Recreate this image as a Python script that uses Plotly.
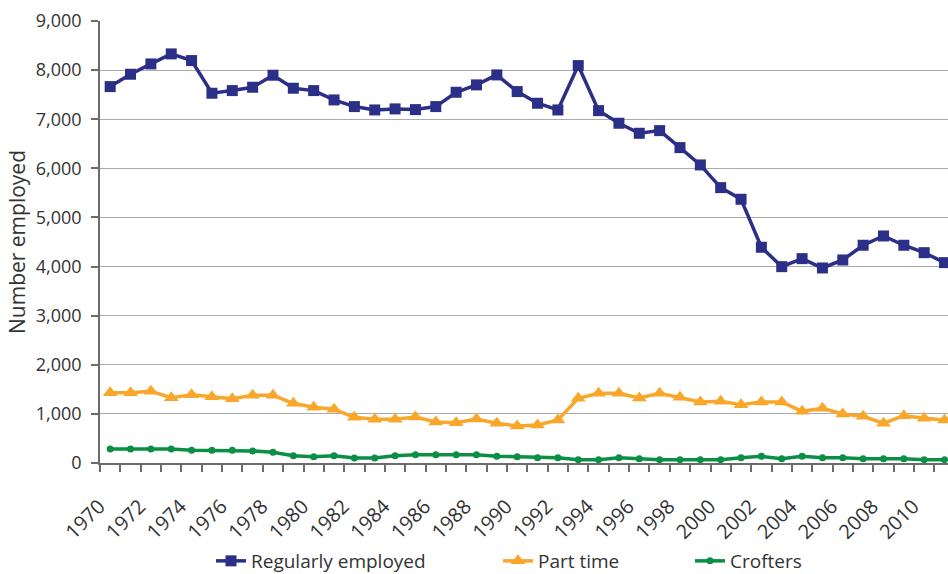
import plotly.graph_objects as go

years = list(range(1970, 2012))
regularly_employed = [7664, 7916, 8126, 8330, 8194, 7529, 7583, 7651, 7896, 7631,
                      7583, 7393, 7257, 7189, 7210, 7196, 7257, 7549, 7699, 7902,
                      7563, 7325, 7189, 8092, 7175, 6918, 6714, 6768, 6422, 6069,
                      5607, 5370, 4393, 3998, 4161, 3971, 4134, 4434, 4623, 4434,
                      4283, 4080]
part_time = [1432, 1432, 1460, 1330, 1391, 1350, 1310, 1378, 1378, 1215,
             1134, 1093, 930, 889, 889, 937, 835, 821, 896, 808,
             754, 774, 876, 1317, 1419, 1419, 1324, 1419, 1337, 1242,
             1256, 1188, 1242, 1242, 1052, 1113, 998, 950, 808, 964,
             910, 876]
crofters = [285, 285, 285, 285, 258, 258, 258, 244, 217, 149,
            129, 149, 102, 102, 149, 170, 170, 170, 170, 136,
            129, 109, 109, 68, 68, 109, 88, 68, 68, 68,
            68, 109, 136, 88, 136, 109, 109, 88, 88, 88,
            68, 68]
label_years = list(range(1970, 2011, 2))
y_ticks = list(range(0, 9001, 1000))

FONT = "Open Sans"
TXT = "#333333"
W, H = 948, 574

fig = go.Figure()
fig.add_trace(go.Scatter(x=years, y=regularly_employed, name="Regularly employed",
                         mode="lines+markers", legend="legend",
                         line=dict(color="#2B2F87", width=3.5),
                         marker=dict(symbol="square", size=11, color="#2B2F87")))
fig.add_trace(go.Scatter(x=years, y=part_time, name="Part time",
                         mode="lines+markers", legend="legend2",
                         line=dict(color="#F9A72B", width=3.5),
                         marker=dict(symbol="triangle-up", size=13, color="#F9A72B")))
fig.add_trace(go.Scatter(x=years, y=crofters, name="Crofters",
                         mode="lines+markers", legend="legend3",
                         line=dict(color="#0A8F45", width=3.5),
                         marker=dict(symbol="circle", size=7, color="#0A8F45")))

def leg(px):
    return dict(xref="container", yref="container", x=(px - 5) / W, xanchor="left",
                y=1 - 561 / H, yanchor="middle", orientation="h",
                font=dict(family=FONT, size=19, color=TXT), bgcolor="rgba(0,0,0,0)")

fig.update_layout(
    width=W, height=H,
    margin=dict(l=100, r=0, t=21, b=111),
    paper_bgcolor="white", plot_bgcolor="white",
    font=dict(family=FONT, size=18, color=TXT),
    showlegend=True,
    legend=leg(216), legend2=leg(503), legend3=leg(695),
    xaxis=dict(range=[1969.5, 2011.17], tickmode="array", tickvals=label_years,
               ticktext=[str(y) for y in label_years], tickangle=-45, ticks="",
               automargin=False, ticklabelstandoff=22, ticklabelshift=-11,
               showgrid=False, showline=True, linecolor="#6b6b6b", linewidth=1.5,
               zeroline=False, tickfont=dict(size=20, color=TXT),
               minor=dict(tick0=1969.5, dtick=1, ticks="outside", ticklen=7,
                          tickcolor="#6b6b6b", tickwidth=1.5, showgrid=False)),
    yaxis=dict(range=[0, 9000], tickmode="array", tickvals=y_ticks, tickformat=",",
               ticks="outside", ticklen=7, tickcolor="#6b6b6b", tickwidth=1.5,
               automargin=False, ticklabelstandoff=6,
               showline=True, linecolor="#6b6b6b", linewidth=1.5,
               showgrid=True, gridcolor="#ababab", gridwidth=1.2, zeroline=False,
               tickfont=dict(size=18, color=TXT),
               title=dict(text="Number employed", font=dict(size=21, color=TXT), standoff=4)),
)

fig.write_html("out.html", config={"displayModeBar": False},
               post_script="document.body.style.margin='0px';document.body.style.overflow='hidden';")
